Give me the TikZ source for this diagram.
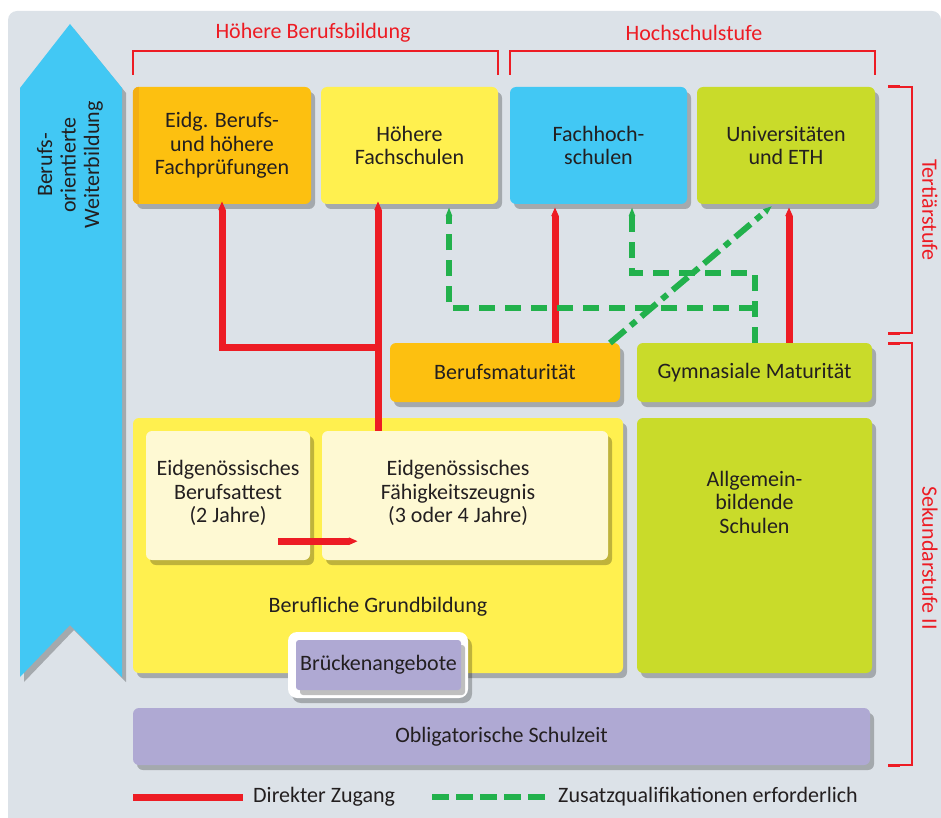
\documentclass[tikz,border=0pt]{standalone}
\usepackage{fontspec}
\setmainfont{Carlito}
\usetikzlibrary{arrows.meta,shadows,calc}
\definecolor{bgc}{HTML}{DCE2E8}
\definecolor{orng}{HTML}{FDC010}
\definecolor{orngd}{HTML}{F3AE12}
\definecolor{ylw}{HTML}{FFF04F}
\definecolor{skyb}{HTML}{42C8F4}
\definecolor{limeg}{HTML}{C9DB2A}
\definecolor{cream}{HTML}{FEF9D3}
\definecolor{lila}{HTML}{AFA9D3}
\definecolor{redl}{HTML}{ED1C24}
\definecolor{grn}{HTML}{22B14C}
\definecolor{txt}{HTML}{231F20}
\tikzset{
 shd/.style={drop shadow={shadow xshift=4pt,shadow yshift=-5pt,opacity=.25,fill=black}},
 box/.style={rectangle, rounded corners=6pt, inner sep=0pt, align=center, text=txt,
   font=\fontsize{22}{23.5}\selectfont, shd},
 lbl/.style={text=txt, font=\fontsize{22}{23.5}\selectfont, align=center, inner sep=0pt},
 rlbl/.style={text=redl, font=\fontsize{22}{23.5}\selectfont, inner sep=0pt},
 brk/.style={draw=redl, line width=1.5pt},
 direct/.style={draw=redl, line width=7pt, -{Triangle[length=9pt,width=7pt]}},
 extra/.style={draw=grn, line width=6pt, dash pattern=on 16pt off 10pt, -{Triangle[length=9pt,width=6pt]}},
}
\begin{document}
\begin{tikzpicture}[x=1pt,y=-1pt]
\useasboundingbox (0,0) rectangle (941,818);
% background
\fill[bgc, rounded corners=9pt] (8,818) -- (8,11) -- (941,11) [sharp corners] -- (941,818) -- cycle;

% left arrow
\fill[skyb, shd] (20,88) -- (70,24) -- (122,88) -- (122,677) -- (70,625) -- (20,677) -- cycle;
\node[lbl, rotate=90] (weiter) at (70,165) {Berufs-\\orientierte\\Weiterbildung};

% top labels and brackets
\node[rlbl] (hbb) at (313,33) {Höhere Berufsbildung};
\node[rlbl] (hss) at (694,33) {Hochschulstufe};
\draw[brk] (133,75) -- (133,51) -- (498,51) -- (498,75);
\draw[brk] (510,75) -- (510,51) -- (875,51) -- (875,75);
\draw[brk] (888,87) -- (912,87) -- (912,333) -- (888,333);
\draw[brk] (888,343) -- (912,343) -- (912,765) -- (888,765);
\draw[redl, line width=3pt] (888,87) -- (900,87) (888,333) -- (900,333) (888,343) -- (900,343) (888,765) -- (900,765);
\node[rlbl, rotate=-90] (tert) at (930,210) {Tertiärstufe};
\node[rlbl, rotate=-90] (sek) at (930,558) {Sekundarstufe II};

% tertiary boxes
\node[box, fill=orng, minimum width=178pt, minimum height=117pt] (ep) at (222,145.5) {};
\fill[orngd] ([xshift=6pt]ep.north west) arc[start angle=90,end angle=180,radius=6pt] -- ([yshift=6pt]ep.south west) arc[start angle=180,end angle=270,radius=6pt] -- cycle;
\node[lbl] (eptxt) at (ep) {Eidg. Berufs-\\und höhere\\Fachprüfungen};
\node[box, fill=ylw, minimum width=177pt, minimum height=117pt] (hf) at (409.5,145.5) {Höhere\\Fachschulen};
\node[box, fill=skyb, minimum width=177pt, minimum height=117pt] (fh) at (598.5,145.5) {Fachhoch-\\schulen};
\node[box, fill=limeg, minimum width=178pt, minimum height=117pt] (uni) at (786,145.5) {Universitäten\\und ETH};

% maturity
\node[box, fill=orng, minimum width=230pt, minimum height=59pt] (bm) at (505,372.5) {Berufsmaturität};
\node[box, fill=limeg, minimum width=235pt, minimum height=59pt] (gm) at (754.5,372.5) {Gymnasiale Maturität};

% secondary II
\node[box, fill=ylw, minimum width=490pt, minimum height=255pt] (bg) at (378,545.5) {};
\node[box, fill=limeg, minimum width=235pt, minimum height=255pt] (abs) at (754.5,545.5) {};
\node[lbl] (abstxt) at (754.5,502) {Allgemein-\\bildende\\Schulen};
\node[box, fill=cream, minimum width=164pt, minimum height=129pt] (eba) at (228,495.5) {};
\node[lbl] (ebatxt) at (228,493) {Eidgenössisches\\Berufsattest\\(2 Jahre)};
\node[box, fill=cream, minimum width=286pt, minimum height=129pt] (efz) at (465,495.5) {};
\node[lbl] (efztxt) at (458,493) {Eidgenössisches\\Fähigkeitszeugnis\\(3 oder 4 Jahre)};
\node[lbl] (bgtxt) at (378,607) {Berufliche Grundbildung};
\node[box, fill=white, rounded corners=9pt, minimum width=180pt, minimum height=66pt] (bruo) at (378,665) {};
\node[box, fill=lila, rounded corners=3pt, minimum width=165pt, minimum height=50pt, drop shadow={opacity=0}] (bru) at (378.5,665) {Brückenangebote};

% compulsory school
\node[box, fill=lila, minimum width=737pt, minimum height=57pt] (obl) at (501.5,736.5) {Obligatorische Schulzeit};

% connectors: direct access (red)
\coordinate (xa) at (222,0);
\coordinate (xb) at (378,0);
\coordinate (xc) at (555,0);
\coordinate (xd) at (789,0);
\coordinate (jn) at (378,347);
\draw[direct, shorten >=-3pt] (efz.north -| xb) -- (hf.south -| xb);
\draw[direct, shorten >=-3pt] (jn) -- (jn -| xa) -- (ep.south -| xa);
\draw[direct] (bm.north -| xc) -- ($(fh.south -| xc)+(0,3)$);
\draw[direct] (gm.north -| xd) -- ($(uni.south -| xd)+(0,3)$);
\draw[redl, line width=7pt, -{Triangle[length=9pt,width=7pt]}] ($(eba.south west)+(132,-19)$) coordinate (ra) -- ($(efz.south west)+(36,-19)$) coordinate (rb);

% connectors: additional qualification (green)
\coordinate (ga) at (755,273);
\coordinate (gb) at (755,308);
\coordinate (xe) at (449,0);
\coordinate (xf) at (632,0);
\draw[extra] (gm.north -| ga) -- (ga) -- (ga -| xf) -- ($(fh.south -| xf)+(0,3)$);
\draw[extra] (gb) -- (gb -| xe) -- ($(hf.south -| xe)+(0,3)$);
\coordinate (da) at (610,343);
\coordinate (db) at (772,206);
\draw[grn, line width=6pt, dash pattern=on 20pt off 7pt on 7pt off 7pt, -{Triangle[length=9pt,width=6pt]}] (da) -- (db);

% legend
\coordinate (l1) at (133,797);
\coordinate (l2) at (243,797);
\coordinate (l3) at (432,797);
\coordinate (l4) at (545,797);
\draw[redl, line width=7pt] (l1) -- (l2);
\node[lbl, anchor=west] (lt1) at (253,797) {Direkter Zugang};
\draw[grn, line width=6pt, dash pattern=on 17pt off 7pt] (l3) -- (l4);
\node[lbl, anchor=west] (lt2) at (558,797) {Zusatzqualifikationen erforderlich};
\end{tikzpicture}
\end{document}
